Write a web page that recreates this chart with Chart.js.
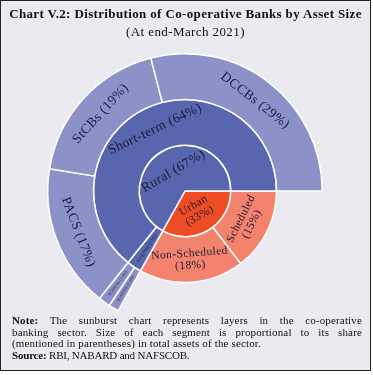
<!DOCTYPE html>
<html>
<head>
<meta charset="utf-8">
<script src="https://cdn.jsdelivr.net/npm/chart.js@4"></script>
<style>
  html, body { margin: 0; padding: 0; background: #fff; }
  #frame {
    position: absolute; left: 0; top: 0; width: 369px; height: 369px;
    border: 1.5px solid #222; background: #ebeaf0;
    font-family: "Liberation Serif", serif; color: #111;
  }
  #chart { position: absolute; left: 0; top: 0; }
  .title { position: absolute; left: 0; width: 100%; text-align: center; white-space: nowrap; }
  #t1 { top: 5px; font-weight: bold; font-size: 13px; letter-spacing: 0.36px; }
  #t2 { top: 23px; font-size: 13px; letter-spacing: 0.4px; }
  #note { position: absolute; left: 11px; top: 314px; width: 350px; font-size: 11px; line-height: 11.5px; letter-spacing: 0.15px; }
  #note div.j { text-align: justify; text-align-last: justify; }
  #src { letter-spacing: -0.2px; }
</style>
</head>
<body>
<div id="frame">
  <canvas id="chart" width="370" height="370"></canvas>
  <div class="title" id="t1">Chart V.2: Distribution of Co-operative Banks by Asset Size</div>
  <div class="title" id="t2">(At end-March 2021)</div>
  <div id="note">
    <div class="j"><b>Note:</b> The sunburst chart represents layers in the co-operative</div>
    <div class="j">banking sector. Size of each segment is proportional to its share</div>
    <div>(mentioned in parentheses) in total assets of the sector.</div>
    <div id="src"><b>Source:</b> RBI, NABARD and NAFSCOB.</div>
  </div>
</div>
<script>
// inner ring: sector
const innerLabels = ['Urban', 'Rural'];
const innerValues = [33.1, 66.9];
const innerShares = ['33%', '67%'];

// middle ring: sub-sector
const middleLabels = ['Scheduled', 'Non-Scheduled', 'Long-term', 'Short-term'];
const middleValues = [14.6, 18.5, 2.6, 64.3];
const middleShares = ['15%', '18%', '2.9%', '64%'];

// outer ring: institutions (first slot is the empty space over urban)
const outerLabels = ['', 'SCARDBs', 'PCARDBs', 'PACS', 'StCBs', 'DCCBs'];
const outerValues = [33.1, 1.2, 1.4, 16.9, 18.4, 29.0];
const outerShares = ['', '1.4%', '1.6%', '17%', '19%', '29%'];

const DARK = '#5766ae';
const LIGHT = '#8c92c8';
const URBAN = '#ee4c24';
const SALMON = '#f3836d';

const twoLine = ['Urban', 'Scheduled', 'Non-Scheduled'];
const fontSizes = {
  'Urban': 11.5, 'Rural': 13.5,
  'Scheduled': 11.5, 'Non-Scheduled': 11.5, 'Long-term': 4.5, 'Short-term': 13.5,
  'SCARDBs': 4, 'PCARDBs': 4, 'PACS': 13.5, 'StCBs': 13.5, 'DCCBs': 13.5
};

const sliceLabels = {
  id: 'sliceLabels',
  afterDatasetsDraw(chart) {
    const ctx = chart.ctx;
    const names = [outerLabels, middleLabels, innerLabels];
    const shares = [outerShares, middleShares, innerShares];
    chart.data.datasets.forEach((ds, d) => {
      chart.getDatasetMeta(d).data.forEach((arc, i) => {
        const name = names[d][i];
        if (!name) return;
        const p = arc.getProps(['x', 'y', 'startAngle', 'endAngle', 'innerRadius', 'outerRadius'], true);
        const mid = (p.startAngle + p.endAngle) / 2;
        const r = (p.innerRadius + p.outerRadius) / 2;
        const span = p.endAngle - p.startAngle;
        // thin slices get radial text, the rest tangential
        let rot = span < 0.3 ? mid : mid + Math.PI / 2;
        while (rot > Math.PI / 2) rot -= Math.PI;
        while (rot <= -Math.PI / 2) rot += Math.PI;
        const size = fontSizes[name];
        const lines = twoLine.includes(name)
          ? [name, '(' + shares[d][i] + ')']
          : [name + ' (' + shares[d][i] + ')'];
        ctx.save();
        ctx.translate(p.x + r * Math.cos(mid), p.y + r * Math.sin(mid));
        ctx.rotate(rot);
        ctx.font = size + 'px "Liberation Serif", serif';
        ctx.letterSpacing = size > 6 ? '0.4px' : '0px';
        ctx.fillStyle = '#1c1c3a';
        ctx.textAlign = 'center';
        ctx.textBaseline = 'middle';
        const lh = size * 1.05;
        lines.forEach((t, k) => ctx.fillText(t, 0, (k - (lines.length - 1) / 2) * lh));
        ctx.restore();
      });
    });
  }
};

new Chart(document.getElementById('chart'), {
  type: 'pie',
  data: {
    labels: outerLabels,
    datasets: [
      {
        data: outerValues,
        backgroundColor: ['rgba(0,0,0,0)', LIGHT, LIGHT, LIGHT, LIGHT, LIGHT],
        borderColor: '#ffffff',
        borderWidth: [0, 1.5, 1.5, 1.5, 1.5, 1.5]
      },
      {
        data: middleValues,
        backgroundColor: [SALMON, SALMON, DARK, DARK],
        borderColor: '#ffffff',
        borderWidth: 1.5
      },
      {
        data: innerValues,
        backgroundColor: [URBAN, DARK],
        borderColor: '#ffffff',
        borderWidth: 1.5
      }
    ]
  },
  options: {
    responsive: false,
    animation: false,
    events: [],
    rotation: 90,
    layout: { padding: { left: 46, top: 52, right: 48, bottom: 42 } },
    plugins: {
      legend: { display: false },
      tooltip: { enabled: false }
    }
  },
  plugins: [sliceLabels]
});
</script>
</body>
</html>
